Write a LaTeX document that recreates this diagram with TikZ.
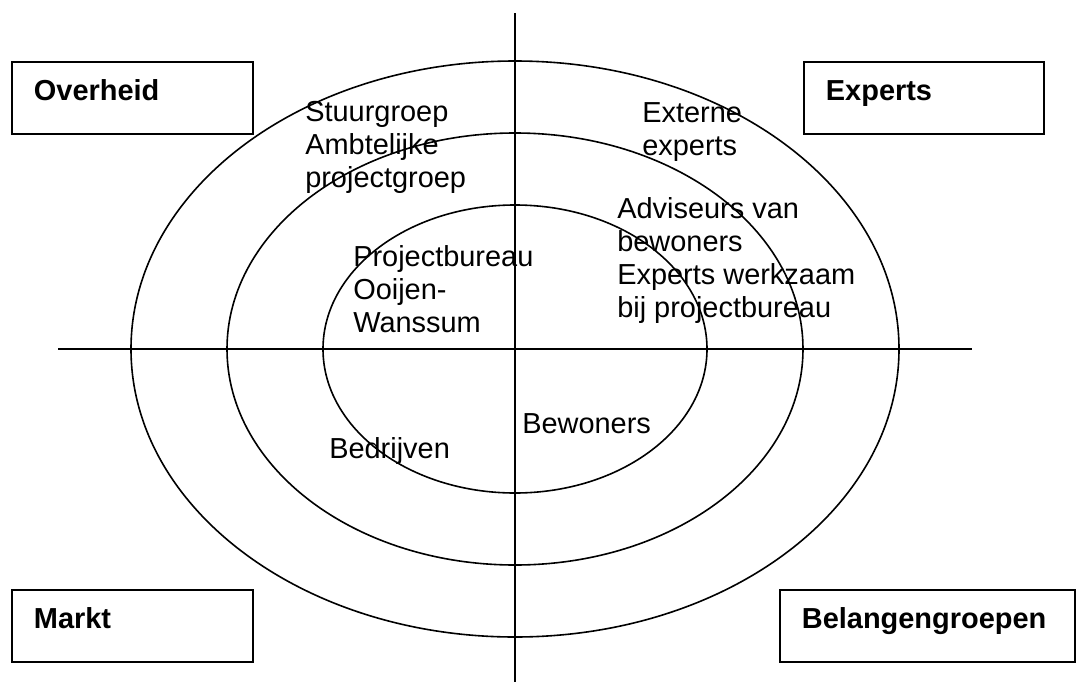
\documentclass[tikz,border=0pt]{standalone}
\usepackage{fontspec}
\setmainfont{Liberation Sans}
\usepackage{tikz}
\usetikzlibrary{positioning}
\tikzset{
  ring/.style={draw=black, line width=1.2pt},
  axis/.style={draw=black, line width=1.2pt},
  box/.style={draw=black, line width=1.4pt, anchor=north west, align=left,
    font=\fontsize{21.7}{24.75}\selectfont\bfseries,
    inner xsep=16.5pt, inner ysep=13.5pt,
    text height=15.75pt, text depth=11.25pt},
  lab/.style={anchor=base west, align=left, inner sep=0pt,
    font=\fontsize{21.7}{24.75}\selectfont},
}

\begin{document}
\begin{tikzpicture}[x=0.75pt, y=-0.75pt]
  \useasboundingbox (0,0) rectangle (1082,682);
  \coordinate (M) at (515,349);
  % rings
  \draw[ring] (M) ellipse (384 and 288);
  \draw[ring] (M) ellipse (288 and 216);
  \draw[ring] (M) ellipse (192 and 144);
  % axes
  \coordinate (top) at (515,13);
  \coordinate (bottom) at (515,682);
  \coordinate (left) at (58,349);
  \coordinate (right) at (972,349);
  \draw[axis] (top) -- (bottom);
  \draw[axis] (left) -- (right);
  % corner boxes
  \node[box, text width=147.75pt] (overheid) at (11,61) {Overheid};
  \node[box, text width=147pt] (experts) at (803,61) {Experts};
  \node[box, text width=147.75pt] (markt) at (11,589) {Markt};
  \node[box, text width=188.25pt] (belang) at (779,589) {Belangengroepen};
  % actors (base = last line)
  \node[lab] (stuur) at (305,187) {Stuurgroep\\Ambtelijke\\projectgroep};
  \node[lab] (extern) at (642,155) {Externe\\experts};
  \node[lab] (advis) at (617,317) {Adviseurs van\\bewoners\\Experts werkzaam\\bij projectbureau};
  \node[lab] (bureau) at (353,332) {Projectbureau\\Ooijen-\\Wanssum};
  \node[lab] (bewoners) at (522,433) {Bewoners};
  \node[lab] (bedrijven) at (329,458) {Bedrijven};
\end{tikzpicture}
\end{document}
